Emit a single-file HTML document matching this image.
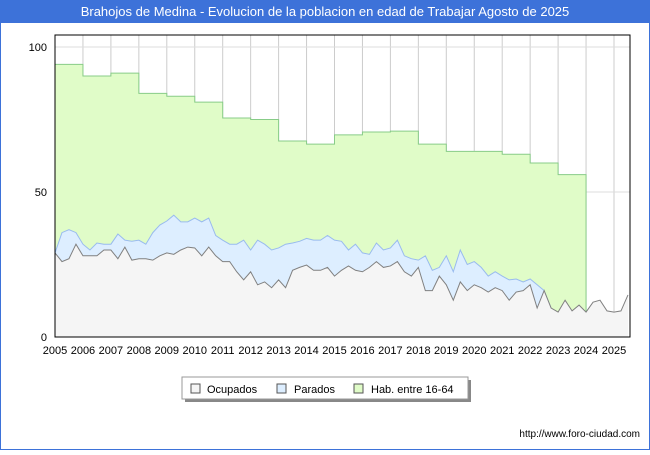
<!DOCTYPE html>
<html><head><meta charset="utf-8"><style>
body{margin:0;width:650px;height:450px;background:#fff;font-family:"Liberation Sans",sans-serif;overflow:hidden}
</style></head><body>
<svg width="650" height="450" xmlns="http://www.w3.org/2000/svg" id="svg">
<rect x="0" y="0" width="650" height="450" fill="#fff"/>
<rect x="0" y="0" width="650" height="23" fill="#3d72d9"/>
<text x="325" y="16" text-anchor="middle" font-size="13" fill="#fff">Brahojos de Medina - Evolucion de la poblacion en edad de Trabajar Agosto de 2025</text>
<g id="plot"></g>
<g>
<rect x="185" y="380" width="286" height="22" fill="#888"/>
<rect x="182" y="377" width="286" height="22" fill="#fff" stroke="#999"/>
<rect x="191" y="384" width="9" height="9" fill="#f5f5f5" stroke="#555"/>
<text x="207" y="393" font-size="11" fill="#000">Ocupados</text>
<rect x="277" y="384" width="9" height="9" fill="#ddeeff" stroke="#555"/>
<text x="294" y="393" font-size="11" fill="#000">Parados</text>
<rect x="354" y="384" width="9" height="9" fill="#e0fcc8" stroke="#555"/>
<text x="371" y="393" font-size="11" fill="#000">Hab. entre 16-64</text>
</g>
<text x="640" y="437" text-anchor="end" font-size="10" fill="#000">http://www.foro-ciudad.com</text>
<rect x="0.5" y="0.5" width="649" height="449" fill="none" stroke="#3d72d9"/>
</svg>
<script>
const years=[2005,2006,2007,2008,2009,2010,2011,2012,2013,2014,2015,2016,2017,2018,2019,2020,2021,2022,2023,2024,2025];
const habValues=[94,90,91,84,83,81,75.5,75,67.6,66.5,69.7,70.7,71,66.5,64,64,63,60,56];
const ocupados=[29,26,27,32, 28,28,28,30, 30,27,31,26.5, 27,27,26.5,28, 29,28.5,30,31, 30.7,28,31,28, 26,26,22.5,19.7, 22.5,18,19,17, 19.7,17,23,24, 24.8,23,23,24, 21,23,24.5,23, 22.5,24,26,24, 24.5,26,22.5,21, 24,16,16,21, 18,12.7,19,16, 18,17,15.5,17, 16,12.7,15.5,16, 18,10,16,10, 8.6,12.7,9,11, 8.6,12,12.7,9, 8.6,9,14.5];
const totalActivos=[29,36,37,36, 32,30,32.4,32, 32,35.5,33.4,33, 33.4,32,36,38.6, 40,42,39.7,39.7, 41,39.7,41,35, 33.4,32,32,33.4, 30,33.4,32,30, 30.7,32,32.4,33, 34,33.4,33.4,35, 33.4,33,30,32, 29,28.5,32.4,30, 30.7,33.4,28,27, 26.5,28,23,24, 28,22.5,30,25, 26,24,21,22.5, 21,19.7,20,19, 20,18,16,10];
const yTicks=[0,50,100];
const NS="http://www.w3.org/2000/svg";
const X0=55,XS=27.95,Y0=337,YS=2.9,XR=630,YT=35;
const xs=t=>X0+(t-2005)*XS, ys=v=>Y0-v*YS;
const plot=document.getElementById('plot');
function mk(tag,attrs){const e=document.createElementNS(NS,tag);for(const k in attrs)e.setAttribute(k,attrs[k]);plot.appendChild(e);return e;}
years.forEach(y=>{const g=mk('line',{x1:xs(y),x2:xs(y),y1:YT,y2:Y0,stroke:'#ccc'});

});
yTicks.forEach(v=>{const g=mk('line',{x1:X0,x2:XR,y1:ys(v),y2:ys(v),stroke:'#ddd'});

});
let hp=[];habValues.forEach((v,i)=>{hp.push([xs(2005+i),ys(v)]);hp.push([xs(2006+i),ys(v)]);});
let hd='M'+xs(2005)+','+Y0+' '+hp.map(p=>'L'+p[0]+','+p[1]).join(' ')+' L'+xs(2005+habValues.length)+','+Y0+'Z';
const ha=mk('path',{d:hd,fill:'#e0fcc8',stroke:'#8c8',"stroke-width":1});


const tp=totalActivos.map((v,i)=>[xs(2005+i/4),ys(v)]);
let pd='M'+tp[0][0]+','+Y0+' '+tp.map(p=>'L'+p[0]+','+p[1]).join(' ')+' L'+tp[tp.length-1][0]+','+Y0+'Z';
const pa=mk('path',{d:pd,fill:'#ddeeff',stroke:'none'});


const pl=mk('polyline',{points:tp.map(p=>p.join(',')).join(' '),fill:'none',stroke:'#99bbee'});


const op=ocupados.map((v,i)=>[xs(2005+i/4),ys(v)]);
let od='M'+op[0][0]+','+Y0+' '+op.map(p=>'L'+p[0]+','+p[1]).join(' ')+' L'+op[op.length-1][0]+','+Y0+'Z';
const oa=mk('path',{d:od,fill:'#f5f5f5',stroke:'none'});


const ol=mk('polyline',{points:op.map(p=>p.join(',')).join(' '),fill:'none',stroke:'#808080'});


const fr=mk('rect',{x:X0,y:YT,width:XR-X0,height:Y0-YT,fill:'none',stroke:'#000'});


years.forEach(y=>{const t=mk('text',{x:xs(y),y:354,'text-anchor':'middle','font-size':11,fill:'#000'});t.textContent=y;

});
yTicks.forEach(v=>{const t=mk('text',{x:47,y:ys(v)+4,'text-anchor':'end','font-size':11,fill:'#000'});t.textContent=v;

});
</script>
</body></html>
